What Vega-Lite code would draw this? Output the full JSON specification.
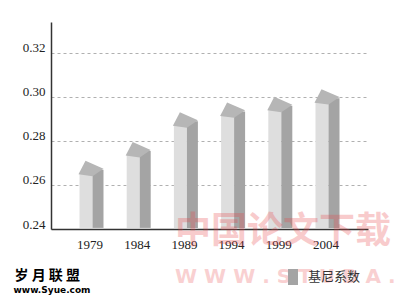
{
  "$schema": "https://vega.github.io/schema/vega-lite/v6.json",
  "width": 317,
  "height": 207,
  "autosize": {"type": "none"},
  "padding": {"left": 51, "top": 22, "right": 32, "bottom": 73},
  "background": "white",
  "config": {"view": {"stroke": null}},
  "datasets": {
    "gini": [
      {"year": "1979", "gini": 0.271, "series": "基尼系数"},
      {"year": "1984", "gini": 0.2795, "series": "基尼系数"},
      {"year": "1989", "gini": 0.293, "series": "基尼系数"},
      {"year": "1994", "gini": 0.2975, "series": "基尼系数"},
      {"year": "1999", "gini": 0.300, "series": "基尼系数"},
      {"year": "2004", "gini": 0.3035, "series": "基尼系数"}
    ],
    "marks": [
      {"t": "中国论文下载", "kind": "wm1"},
      {"t": "W W W . S T U D A . C O M", "kind": "wm2"},
      {"t": "岁 月 联 盟", "kind": "s1"},
      {"t": "www.Syue.com", "kind": "s2"}
    ]
  },
  "data": {"name": "gini"},
  "layer": [
    {
      "mark": {"type": "bar", "width": 13, "xOffset": -5.5, "yOffset": 13, "color": "#dedede"},
      "encoding": {
        "x": {
          "field": "year",
          "type": "ordinal",
          "scale": {"type": "point", "padding": 0.858},
          "axis": {
            "title": null,
            "ticks": false,
            "grid": false,
            "domainColor": "#333333",
            "domainWidth": 1.5,
            "labelAngle": 0,
            "labelFont": "Liberation Serif",
            "labelFontSize": 13,
            "labelColor": "#222222",
            "labelPadding": 9,
            "labelOffset": -2
          }
        },
        "y": {
          "field": "gini",
          "type": "quantitative",
          "scale": {"domain": [0.24, 0.334], "nice": false, "zero": false},
          "axis": {
            "title": null,
            "values": [0.24, 0.26, 0.28, 0.30, 0.32],
            "format": ".2f",
            "ticks": false,
            "grid": true,
            "gridDash": [3, 3],
            "gridColor": "#b0b0b0",
            "gridWidth": 1,
            "domainColor": "#333333",
            "domainWidth": 1.5,
            "labelFont": "Liberation Serif",
            "labelFontSize": 13,
            "labelColor": "#222222",
            "labelPadding": 6,
            "labelOffset": -5
          }
        },
        "y2": {"datum": 0.2405}
      }
    },
    {
      "mark": {"type": "bar", "width": 11, "xOffset": 6.5, "yOffset": 9},
      "encoding": {
        "x": {"field": "year", "type": "ordinal"},
        "y": {"field": "gini", "type": "quantitative"},
        "y2": {"datum": 0.2405},
        "color": {
          "field": "series",
          "type": "nominal",
          "scale": {"range": ["#a4a4a4"]},
          "legend": {
            "orient": "none",
            "legendX": 232,
            "legendY": 245,
            "title": null,
            "symbolType": "M -0.5 -0.8 L 0.5 -0.8 L 0.5 0.8 L -0.5 0.8 Z",
            "symbolSize": 400,
            "symbolStrokeWidth": 0,
            "labelFont": "Noto Sans CJK SC",
            "labelFontSize": 13,
            "labelColor": "#333333",
            "labelOffset": 5
          }
        }
      }
    },
    {
      "mark": {
        "type": "point",
        "filled": true,
        "shape": "M -0.867 0.9 L -0.4 0 L 0.8 0.53 L 0.067 1.03 Z",
        "size": 900,
        "color": "#b6b6b6",
        "opacity": 1,
        "strokeWidth": 0
      },
      "encoding": {
        "x": {"field": "year", "type": "ordinal"},
        "y": {"field": "gini", "type": "quantitative"}
      }
    },
    {
      "data": {"name": "marks"},
      "transform": [{"filter": "datum.kind == 'wm1'"}],
      "mark": {"type": "text", "font": "Noto Sans CJK SC", "fontWeight": "bold", "fontSize": 36, "color": "#e8474a", "opacity": 0.28, "align": "left", "baseline": "middle", "dx": -58, "dy": 3},
      "encoding": {"text": {"field": "t"}, "x": {"datum": "1994", "type": "ordinal"}, "y": {"datum": 0.24, "type": "quantitative"}}
    },
    {
      "data": {"name": "marks"},
      "transform": [{"filter": "datum.kind == 'wm2'"}],
      "mark": {"type": "text", "font": "DejaVu Sans", "fontWeight": "bold", "fontSize": 20, "color": "#e8474a", "opacity": 0.25, "align": "left", "baseline": "middle", "dx": -58, "dy": 48},
      "encoding": {"text": {"field": "t"}, "x": {"datum": "1994", "type": "ordinal"}, "y": {"datum": 0.24, "type": "quantitative"}}
    },
    {
      "data": {"name": "marks"},
      "transform": [{"filter": "datum.kind == 's1'"}],
      "mark": {"type": "text", "font": "Noto Sans CJK SC", "fontWeight": "bold", "fontSize": 14, "color": "#000000", "align": "left", "baseline": "middle", "dx": -77, "dy": 47},
      "encoding": {"text": {"field": "t"}, "x": {"datum": "1979", "type": "ordinal"}, "y": {"datum": 0.24, "type": "quantitative"}}
    },
    {
      "data": {"name": "marks"},
      "transform": [{"filter": "datum.kind == 's2'"}],
      "mark": {"type": "text", "font": "DejaVu Sans", "fontWeight": "bold", "fontSize": 9, "color": "#000000", "align": "left", "baseline": "middle", "dx": -78, "dy": 61},
      "encoding": {"text": {"field": "t"}, "x": {"datum": "1979", "type": "ordinal"}, "y": {"datum": 0.24, "type": "quantitative"}}
    }
  ]
}
